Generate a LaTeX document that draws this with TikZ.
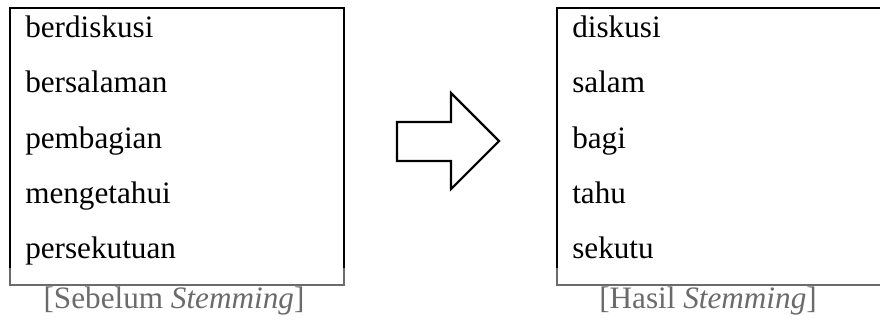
\documentclass[tikz,border=0pt]{standalone}
\usepackage{fontspec}
\setmainfont{Liberation Serif}
\tikzset{
  ListBox/.style = { draw, line width = 1.7pt },
  WordStyle/.style = { anchor = base west, inner sep = 0pt,
                       font = \fontsize{23.4}{27}\selectfont },
  CaptionStyle/.style = { anchor = base, inner sep = 0pt,
                          font = \fontsize{23.4}{27}\selectfont },
  ArrowStyle/.style = { draw, line width = 1.6pt, line join = miter } }

\begin{document}
\begin{tikzpicture}[x=0.75pt,y=-0.75pt]
  \useasboundingbox (0,0) rectangle (880,325);
  \clip (0,0) rectangle (880,325);

  % the two word lists
  \node[ListBox, minimum width=250.5pt, minimum height=207.75pt] (before) at (177,146.5) {};
  \node[ListBox, minimum width=250.5pt, minimum height=207.75pt] (after) at (724,146.5) {};

  \node[WordStyle] (b1) at (25,37)  {berdiskusi};
  \node[WordStyle] (b2) at (25,92)  {bersalaman};
  \node[WordStyle] (b3) at (25,148) {pembagian};
  \node[WordStyle] (b4) at (25,203) {mengetahui};
  \node[WordStyle] (b5) at (25,258) {persekutuan};

  \node[WordStyle] (a1) at (572,37)  {diskusi};
  \node[WordStyle] (a2) at (572,92)  {salam};
  \node[WordStyle] (a3) at (572,148) {bagi};
  \node[WordStyle] (a4) at (572,203) {tahu};
  \node[WordStyle] (a5) at (572,258) {sekutu};

  % block arrow in between
  \draw[ArrowStyle] (397,122) -- (451,122) -- (451,93) -- (499,141)
    -- (451,189) -- (451,161) -- (397,161) -- cycle;

  % captions
  \node[CaptionStyle] (capbefore) at (174,308) {[Sebelum \textit{Stemming}]};
  \node[CaptionStyle] (capafter) at (708,308) {[Hasil \textit{Stemming}]};

  % faded lower band
  \fill[white, opacity=0.42] (0,268) rectangle (880,325);
\end{tikzpicture}
\end{document}
